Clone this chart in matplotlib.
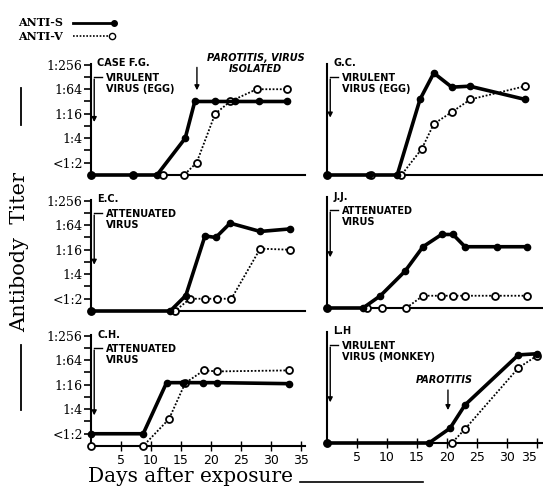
import numpy as np
import matplotlib
matplotlib.use("Agg")
import matplotlib.pyplot as plt
from matplotlib.lines import Line2D

# reciprocal antibody titers; 0 = nothing detected
fg_days_s = [0, 7, 11, 15.7, 17.3, 20.7, 24, 28, 32.7]
fg_titer_s = [0, 0, 0, 4, 32, 32, 32, 32, 32]
fg_days_v = [0, 7, 12, 15.5, 17.6, 20.7, 23.2, 27.6, 32.7]
fg_titer_v = [0, 0, 0, 0, 1, 16, 32, 64, 64]

gc_days_s = [0, 7, 11.7, 15.5, 17.8, 20.8, 23.8, 33]
gc_titer_s = [0, 0, 0, 36, 160, 72, 76, 36]
gc_days_v = [0, 7.4, 12.4, 15.8, 17.8, 20.9, 23.9, 33]
gc_titer_v = [0, 0, 0, 2.2, 9, 18, 36, 76]

ec_days_s = [0, 13.2, 15.8, 19, 20.8, 23.2, 28.2, 33.2]
ec_titer_s = [0, 0, 1.2, 35, 32, 72, 45, 52]
ec_days_v = [0, 14, 16.5, 19, 21, 23.4, 28.2, 33.2]
ec_titer_v = [0, 0, 1, 1, 1, 1, 17, 16]

jj_days_s = [0, 6, 8.9, 13, 16, 19.1, 21, 23, 28.3, 33.3]
jj_titer_s = [0, 0, 1, 4, 16, 32, 32, 16, 16, 16]
jj_days_v = [0, 6.6, 9.1, 13.2, 16, 19, 21, 23, 28, 33.3]
jj_titer_v = [0, 0, 0, 0, 1, 1, 1, 1, 1, 1]

ch_days_s = [0, 8.7, 12.6, 15.3, 18.7, 21, 33]
ch_titer_s = [1, 1, 18, 18, 18, 18, 17]
ch_days_v = [0, 8.7, 13, 15.7, 18.8, 21, 33]
ch_titer_v = [0, 0, 2.3, 17.6, 36, 34, 36]

lh_days_s = [0, 17, 20.5, 23, 31.9, 35]
lh_titer_s = [0, 0, 1.15, 4.3, 73, 78]
lh_days_v = [0, 20.8, 23, 31.9, 35]
lh_titer_v = [0, 0, 1.1, 35, 70]

case_names = ["CASE F.G.", "G.C.", "E.C.", "J.J.", "C.H.", "L.H"]
case_notes = ["VIRULENT\nVIRUS (EGG)", "VIRULENT\nVIRUS (EGG)",
              "ATTENUATED\nVIRUS", "ATTENUATED\nVIRUS",
              "ATTENUATED\nVIRUS", "VIRULENT\nVIRUS (MONKEY)"]
ytick_vals = [1, 4, 16, 64, 256]
ytick_labels = ["<1:2", "1:4", "1:16", "1:64", "1:256"]
xtick_vals = [5, 10, 15, 20, 25, 30, 35]

NEG = 0.5        # where "not detected" sits (on the axis line)
TOP = 4 ** 4.05

W, H = 543, 491
fig = plt.figure(figsize=(W / 100, H / 100), dpi=100)


def px_axes(x0, x1, ybase, yh=111.5):
    return fig.add_axes([x0 / W, 1 - ybase / H, (x1 - x0) / W, yh / H])


panels = [
    (px_axes(91, 305, 175), fg_days_s, fg_titer_s, fg_days_v, fg_titer_v, 0.45),
    (px_axes(327, 543, 175), gc_days_s, gc_titer_s, gc_days_v, gc_titer_v, 0.49),
    (px_axes(91, 305, 311), ec_days_s, ec_titer_s, ec_days_v, ec_titer_v, 0.39),
    (px_axes(327, 543, 308), jj_days_s, jj_titer_s, jj_days_v, jj_titer_v, 0.43),
    (px_axes(91, 305, 446), ch_days_s, ch_titer_s, ch_days_v, ch_titer_v, 0.25),
    (px_axes(327, 543, 443), lh_days_s, lh_titer_s, lh_days_v, lh_titer_v, 0.34),
]

for i, (ax, ds, ts, dv, tv, arrow_end) in enumerate(panels):
    left_col = i % 2 == 0
    bottom_row = i >= 4
    ts = np.where(np.array(ts) > 0, ts, NEG)
    tv = np.where(np.array(tv) > 0, tv, NEG)

    ax.plot(dv, tv, color='black', lw=1.3, ls=(0, (1, 1)), marker='o', ms=5,
            mfc='white', mec='black', mew=1.3, clip_on=False, zorder=3)
    ax.plot(ds, ts, color='black', lw=2.6, marker='o', ms=4.5,
            clip_on=False, zorder=4)

    ax.set_yscale('log', base=4)
    ax.set_ylim(NEG, TOP)
    ax.set_xlim(0, 35.67 if left_col else 36)
    for s in ['top', 'right']:
        ax.spines[s].set_visible(False)
    for s in ['left', 'bottom']:
        ax.spines[s].set_linewidth(1.5)

    if left_col:
        ax.set_yticks(ytick_vals)
        ax.set_yticklabels(ytick_labels, fontsize=9, family='DejaVu Serif')
        ax.set_yticks([2, 8, 32, 128], minor=True)
        ax.yaxis.set_minor_formatter(plt.NullFormatter())
        ax.tick_params(axis='y', which='both', length=5, width=1.2, pad=1)
    else:
        ax.set_yticks([])
        ax.set_yticks([], minor=True)

    if bottom_row:
        ax.set_xticks(xtick_vals)
        labels = ax.set_xticklabels([str(v) for v in xtick_vals], fontsize=9)
        if not left_col:
            labels[-1].set_horizontalalignment('right')
        ax.tick_params(axis='x', direction='inout', length=7, width=1, pad=2)
    else:
        ax.set_xticks([])

    # case label with bracket arrow
    ax.text(0.03, 1.0, case_names[i], transform=ax.transAxes, fontsize=7,
            fontweight='bold', va='center', ha='left')
    ax.text(0.07, 0.82, case_notes[i], transform=ax.transAxes, fontsize=7,
            fontweight='bold', va='center', ha='left', linespacing=1.1)
    ax.plot([0.015, 0.05], [0.88, 0.88], color='black', lw=1,
            transform=ax.transAxes, clip_on=False)
    ax.annotate('', xy=(0.015, arrow_end), xytext=(0.015, 0.885),
                xycoords='axes fraction',
                arrowprops=dict(arrowstyle='-|>', color='black', lw=1,
                                mutation_scale=7))

# parotitis markers
ax_fg = panels[0][0]
ax_fg.text(0.77, 1.0, "PAROTITIS, VIRUS\nISOLATED", transform=ax_fg.transAxes,
           fontsize=7, fontweight='bold', style='italic', ha='center',
           va='center', linespacing=1.1)
ax_fg.annotate('', xy=(0.495, 0.735), xytext=(0.495, 0.99),
               xycoords='axes fraction',
               arrowprops=dict(arrowstyle='-|>', color='black', lw=1,
                               mutation_scale=7))
ax_lh = panels[5][0]
ax_lh.text(0.545, 0.565, "PAROTITIS", transform=ax_lh.transAxes,
           fontsize=7, fontweight='bold', style='italic', ha='center',
           va='center')
ax_lh.annotate('', xy=(0.56, 0.27), xytext=(0.56, 0.50),
               xycoords='axes fraction',
               arrowprops=dict(arrowstyle='-|>', color='black', lw=1,
                               mutation_scale=7))

# legend keys
fig.text(18 / W, 1 - 23 / H, "ANTI-S", fontsize=8, fontweight='bold',
         va='center', family='DejaVu Serif')
fig.text(18 / W, 1 - 36 / H, "ANTI-V", fontsize=8, fontweight='bold',
         va='center', family='DejaVu Serif')
fig.add_artist(Line2D([73 / W, 114 / W], [1 - 23 / H, 1 - 23 / H],
                      color='black', lw=2, marker='o', ms=4,
                      markevery=[1]))
fig.add_artist(Line2D([73 / W, 112 / W], [1 - 36 / H, 1 - 36 / H],
                      color='black', lw=1.2, ls=(0, (1, 1)), marker='o', ms=4.5,
                      mfc='white', markevery=[1]))

# axis titles
fig.text(20 / W, 1 - 252 / H, "Antibody  Titer", rotation=90, fontsize=15,
         family='DejaVu Serif', ha='center', va='center')
fig.add_artist(Line2D([21 / W, 21 / W], [1 - 88 / H, 1 - 125 / H],
                      color='black', lw=1.3))
fig.add_artist(Line2D([21 / W, 21 / W], [1 - 345 / H, 1 - 410 / H],
                      color='black', lw=1.3))
fig.text(88 / W, 1 - 476 / H, "Days after exposure", fontsize=14.5,
         family='DejaVu Serif', ha='left', va='center')
fig.add_artist(Line2D([300 / W, 423 / W], [1 - 482 / H, 1 - 482 / H],
                      color='black', lw=1.2))

fig.savefig("out.png", dpi=100)
